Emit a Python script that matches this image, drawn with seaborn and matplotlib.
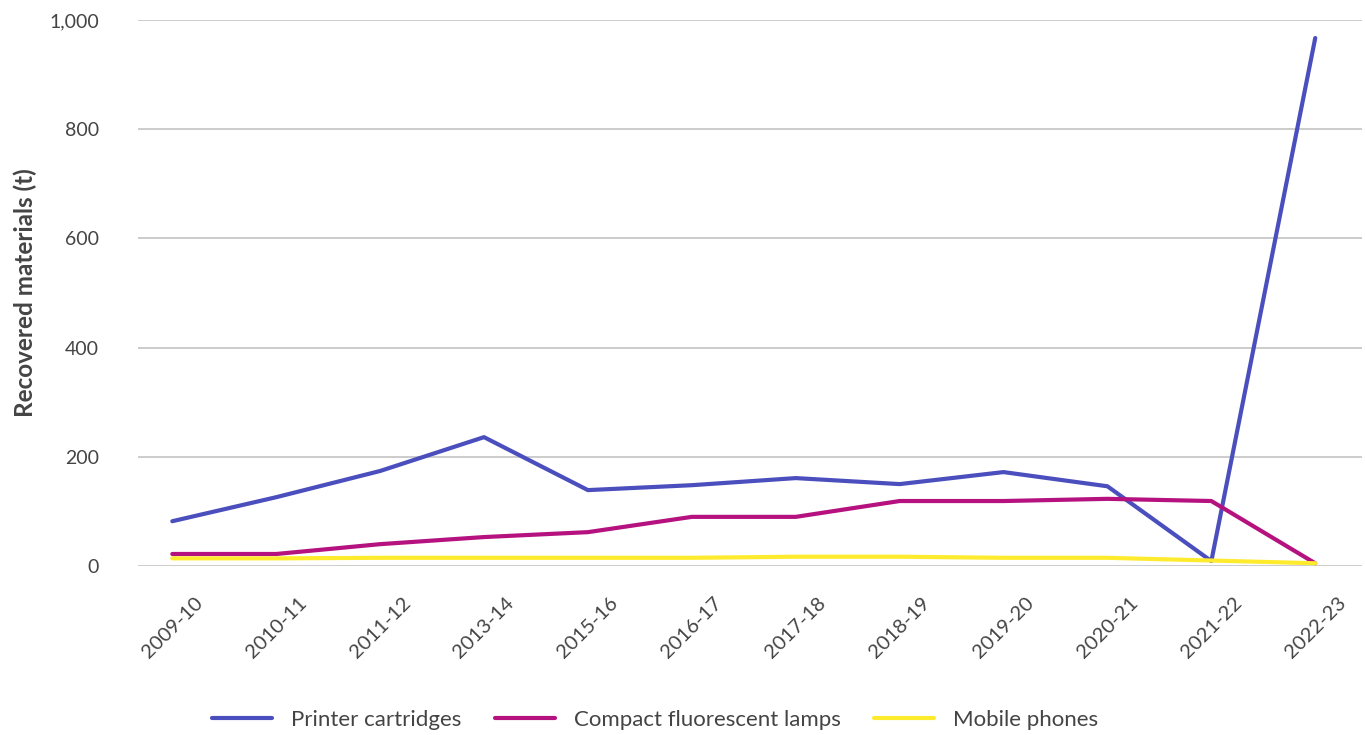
import matplotlib
matplotlib.use("Agg")
import matplotlib.pyplot as plt
import seaborn as sns
import pandas as pd
from matplotlib.ticker import FuncFormatter

years = ["2009-10", "2010-11", "2011-12", "2013-14", "2015-16", "2016-17",
         "2017-18", "2018-19", "2019-20", "2020-21", "2021-22", "2022-23"]
printer_cartridges = [82, 126, 174, 236, 139, 148, 161, 150, 172, 146, 9, 967]
compact_fluorescent_lamps = [22, 22, 40, 53, 62, 90, 90, 119, 119, 123, 119, 5]
mobile_phones = [14, 14, 15, 15, 15, 15, 17, 17, 15, 15, 10, 5]

series_names = ["Printer cartridges", "Compact fluorescent lamps", "Mobile phones"]
series_values = [printer_cartridges, compact_fluorescent_lamps, mobile_phones]
colors = ["#4B4FBD", "#B5127F", "#FFEB2E"]

rows = []
for name, vals in zip(series_names, series_values):
    for i, (yr, v) in enumerate(zip(years, vals)):
        rows.append({"x": i, "year": yr, "value": v, "series": name})
df = pd.DataFrame(rows)

sns.set_theme(style="white")
plt.rcParams["font.family"] = ["Lato", "DejaVu Sans"]

fig = plt.figure(figsize=(13.65, 7.35), dpi=100)
ax = fig.add_axes([138/1365, 1-566/735, (1362-138)/1365, (566-20)/735])

sns.lineplot(data=df, x="x", y="value", hue="series", hue_order=series_names,
             palette=colors, linewidth=3, ax=ax, sort=False, legend=True)

ax.set_ylim(0, 1000)
ax.set_xlim(-0.33, 11.45)
ax.set_yticks([0, 200, 400, 600, 800, 1000])
ax.yaxis.set_major_formatter(FuncFormatter(lambda v, p: f"{int(v):,}"))
ax.set_xticks(range(len(years)))
ax.set_xticklabels(years, rotation=45, ha="center", fontsize=14.5)
ax.grid(axis="y", color="#c4c4c4", linewidth=1.2)
ax.set_axisbelow(True)
for s in ax.spines.values():
    s.set_visible(False)
ax.tick_params(axis="both", length=0, colors="#444444")
ax.tick_params(axis="y", pad=28, labelsize=14)
ax.tick_params(axis="x", pad=20)
ax.set_xlabel("")
ax.set_ylabel("Recovered materials (t)", fontsize=17.5, fontweight="bold",
              color="#444444", labelpad=9)

handles, labels = ax.get_legend_handles_labels()
ax.legend_.remove()
leg = fig.legend(handles, labels, loc="center", ncol=3, frameon=False,
                 bbox_to_anchor=(655/1365, 1-720/735), fontsize=16,
                 handlelength=2.7, columnspacing=1.5, handletextpad=0.85)
for t in leg.get_texts():
    t.set_color("#444444")

fig.savefig("out.png", dpi=100)
